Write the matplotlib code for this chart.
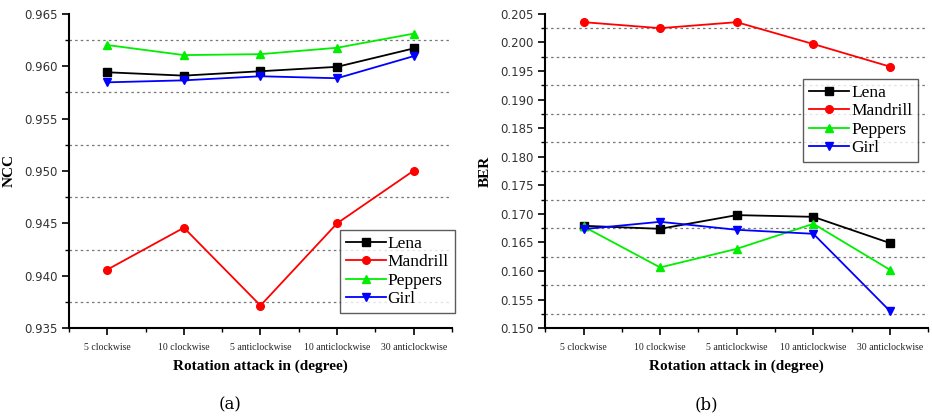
import matplotlib
matplotlib.use("Agg")
import matplotlib.pyplot as plt
from matplotlib.ticker import MultipleLocator, FixedLocator, NullFormatter

attacks = ["5 clockwise", "10 clockwise", "5 anticlockwise",
           "10 anticlockwise", "30 anticlockwise"]
images = ["Lena", "Mandrill", "Peppers", "Girl"]

ncc_lena = [0.95942, 0.95910, 0.95952, 0.95994, 0.96170]
ncc_mandrill = [0.94058, 0.94458, 0.93715, 0.94500, 0.95003]
ncc_peppers = [0.96202, 0.96106, 0.96115, 0.96176, 0.96311]
ncc_girl = [0.95846, 0.95865, 0.95904, 0.95885, 0.96096]

ber_lena = [0.16790, 0.16737, 0.16977, 0.16947, 0.16488]
ber_mandrill = [0.20354, 0.20249, 0.20354, 0.19971, 0.19576]
ber_peppers = [0.16778, 0.16061, 0.16387, 0.16825, 0.16020]
ber_girl = [0.16732, 0.16860, 0.16720, 0.16650, 0.15298]

colors = ["#000000", "#ff0000", "#00ee00", "#0000ff"]
markers = ["s", "o", "^", "v"]

fig = plt.figure(figsize=(9.32, 4.19), dpi=100)
ax_a = fig.add_axes([0.074, 0.217, 0.411, 0.750])
ax_b = fig.add_axes([0.585, 0.217, 0.411, 0.750])

serif = "Liberation Serif"


def draw_panel(ax, series, ylim, ylabel, legend_box):
    x = list(range(len(attacks)))
    for name, vals, c, m in zip(images, series, colors, markers):
        ax.plot(x, vals, color=c, marker=m, markersize=5.5, linewidth=1.3,
                label=name, zorder=3)
    ax.set_xlim(-0.5, len(attacks) - 0.5)
    ax.set_ylim(*ylim)
    ax.yaxis.set_major_locator(MultipleLocator(0.005))
    ax.yaxis.set_minor_locator(MultipleLocator(0.0025))
    ax.xaxis.set_major_locator(FixedLocator(x))
    ax.xaxis.set_minor_locator(FixedLocator([i - 0.5 for i in range(len(attacks) + 1)]))
    ax.xaxis.set_minor_formatter(NullFormatter())
    ax.set_xticklabels(attacks, fontsize=7, family=serif, color="#222222")
    ax.yaxis.set_major_formatter(matplotlib.ticker.FormatStrFormatter("%.3f"))
    for lbl in ax.get_yticklabels():
        lbl.set_fontsize(8.5)
        lbl.set_color("#333333")
        lbl.set_family("DejaVu Sans")
    ax.tick_params(axis="both", which="major", direction="out", length=5,
                   width=1.2, pad=3)
    ax.tick_params(axis="both", which="minor", direction="out", length=3,
                   width=1.0)
    ax.tick_params(axis="x", which="major", pad=6)
    for s in ("top", "right"):
        ax.spines[s].set_visible(False)
    for s in ("left", "bottom"):
        ax.spines[s].set_linewidth(1.5)
    # dotted reference lines at the half-step values
    lo, hi = ylim
    v = lo + 0.0025
    while v < hi:
        ax.axhline(v, color="#777777", linestyle=(0, (2, 2.5)), linewidth=0.9,
                   zorder=1)
        v += 0.005
    ax.set_xlabel("Rotation attack in (degree)", family=serif,
                  fontweight="bold", fontsize=11, labelpad=5)
    ax.set_ylabel(ylabel, family=serif, fontweight="bold", fontsize=11,
                  labelpad=6)
    leg = ax.legend(loc="upper left", bbox_to_anchor=legend_box,
                    prop={"family": serif, "size": 12.5}, frameon=True,
                    fancybox=False, edgecolor="#333333", handlelength=2.3,
                    handletextpad=0.1, labelspacing=0.12, borderpad=0.35,
                    borderaxespad=0)
    leg.get_frame().set_linewidth(1.0)


draw_panel(ax_a, [ncc_lena, ncc_mandrill, ncc_peppers, ncc_girl],
           (0.935, 0.965), "NCC", (0.707, 0.312))
draw_panel(ax_b, [ber_lena, ber_mandrill, ber_peppers, ber_girl],
           (0.150, 0.205), "BER", (0.674, 0.793))

fig.text(0.247, 0.033, "(a)", family="DejaVu Serif", fontsize=12,
         ha="center", va="center")
fig.text(0.758, 0.033, "(b)", family="DejaVu Serif", fontsize=12,
         ha="center", va="center")

fig.savefig("out.png", dpi=100)
